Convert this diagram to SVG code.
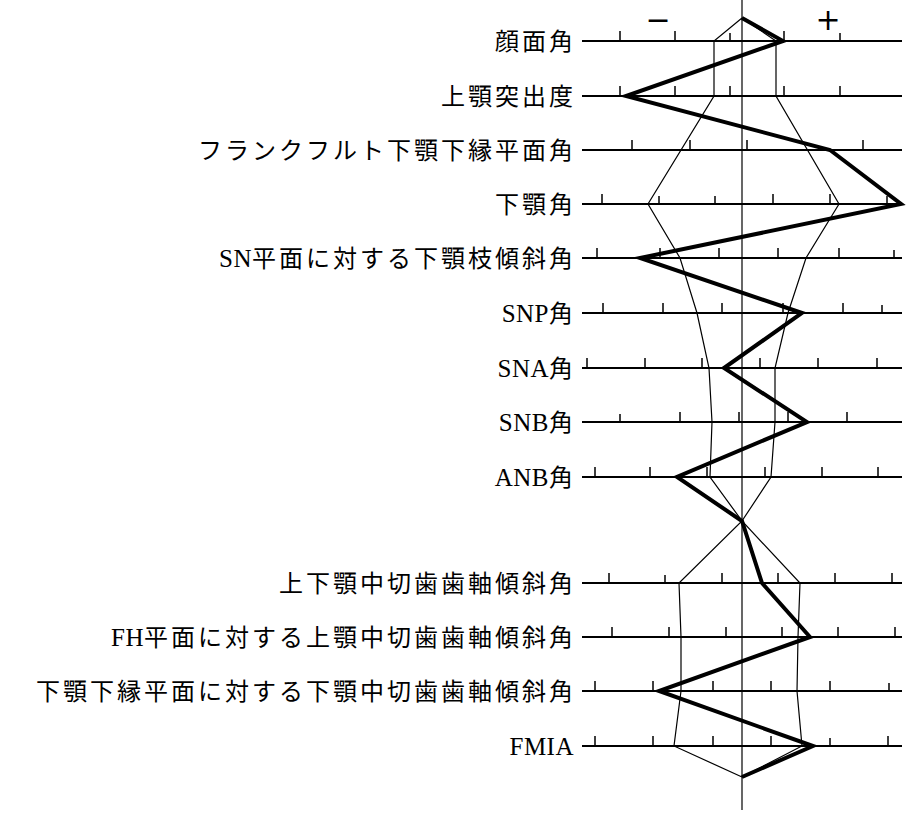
<svg xmlns="http://www.w3.org/2000/svg" width="924" height="821" viewBox="0 0 924 821">
<style>
text{font-family:"Liberation Serif","Noto Sans CJK JP",serif;font-size:24px;letter-spacing:3px;fill:#000;text-anchor:end}
.l{font-size:25px;letter-spacing:0.5px}
.ax{stroke:#000;stroke-width:2}
.tk{stroke:#000;stroke-width:1.5}
.sd{fill:none;stroke:#000;stroke-width:1.2}
.pt{fill:none;stroke:#000;stroke-width:4;stroke-linejoin:miter}
</style>
<rect width="924" height="821" fill="#fff"/>
<g id="labels">
<text x="576" y="50">顔面角</text>
<text x="576" y="105">上顎突出度</text>
<text x="576" y="159">フランクフルト下顎下縁平面角</text>
<text x="576" y="213">下顎角</text>
<text x="576" y="267"><tspan class="l">SN</tspan>平面に対する下顎枝傾斜角</text>
<text x="576" y="322"><tspan class="l">SNP</tspan>角</text>
<text x="576" y="377"><tspan class="l">SNA</tspan>角</text>
<text x="576" y="431"><tspan class="l">SNB</tspan>角</text>
<text x="576" y="486"><tspan class="l">ANB</tspan>角</text>
<text x="576" y="592">上下顎中切歯歯軸傾斜角</text>
<text x="576" y="646"><tspan class="l">FH</tspan>平面に対する上顎中切歯歯軸傾斜角</text>
<text x="576" y="700">下顎下縁平面に対する下顎中切歯歯軸傾斜角</text>
<text x="574" y="755" class="l">FMIA</text>
<text x="658" y="30" style="text-anchor:middle;font-family:'DejaVu Sans',sans-serif;font-size:30px;letter-spacing:0">−</text>
<text x="828" y="30" style="text-anchor:middle;font-family:'DejaVu Sans',sans-serif;font-size:30px;letter-spacing:0">+</text>
</g>
<g id="axes">
<line class="ax" x1="742" y1="0" x2="742" y2="810" style="stroke-width:1.2"/>
<line class="ax" x1="582" y1="41" x2="902" y2="41"/>
<line class="ax" x1="582" y1="96" x2="902" y2="96"/>
<line class="ax" x1="582" y1="150" x2="902" y2="150"/>
<line class="ax" x1="582" y1="204" x2="902" y2="204"/>
<line class="ax" x1="582" y1="258" x2="902" y2="258"/>
<line class="ax" x1="582" y1="313" x2="902" y2="313"/>
<line class="ax" x1="582" y1="368" x2="902" y2="368"/>
<line class="ax" x1="582" y1="422" x2="902" y2="422"/>
<line class="ax" x1="582" y1="477" x2="902" y2="477"/>
<line class="ax" x1="582" y1="583" x2="902" y2="583"/>
<line class="ax" x1="582" y1="637" x2="902" y2="637"/>
<line class="ax" x1="582" y1="691" x2="902" y2="691"/>
<line class="ax" x1="582" y1="746" x2="902" y2="746"/>
</g>
<g id="ticks">
<path class="tk" d="M620 41v-10M675 41v-10M730 41v-8M784 41v-10M840 41v-8
M620 96v-10M675 96v-10M730 96v-10M784 96v-10M840 96v-10
M632 150v-10M690 150v-10M747 150v-10M863 150v-10
M602 204v-10M659 204v-8M715 204v-8M773 204v-10M830 204v-10M887 204v-8
M597 258v-10M660 258v-10M719 258v-10M778 258v-10M839 258v-10M894 258v-8
M603 313v-10M663 313v-10M722 313v-10M783 313v-10M843 313v-10M882 313v-8
M587 368v-10M645 368v-10M702 368v-10M760 368v-10M818 368v-10M877 368v-10
M620 422v-8M680 422v-10M739 422v-10M788 422v-10M847 422v-10
M595 477v-10M650 477v-10M707 477v-10M765 477v-10M822 477v-10M878 477v-10
M609 583v-10M665 583v-8M722 583v-10M778 583v-10M835 583v-10M892 583v-10
M612 637v-10M669 637v-10M726 637v-10M782 637v-10M838 637v-10M895 637v-10
M595 691v-10M653 691v-10M713 691v-10M771 691v-10M830 691v-10M889 691v-8
M595 746v-10M653 746v-10M713 746v-10M771 746v-10M830 746v-8M888 746v-10"/>
</g>
<g id="connectors">
<polyline class="sd" points="742,18 714,41 714,96 648,204 680,258 697,313 709,368 712,422 710,477 742,521 679,583 681,637 681,691 674,746 742,777"/>
<polyline class="sd" points="742,18 776,41 776,96 839,204 806,258 788,313 775,368 775,422 771,477 742,521 800,583 798,637 797,691 802,746 742,777"/>
<polyline class="pt" points="742,18 783,41 626,96 830,150 901,204 640,258 802,313 724,368 807,422 677,477 742,521 762,583 810,637 659,691 813,746 742,777"/>
</g>
</svg>
